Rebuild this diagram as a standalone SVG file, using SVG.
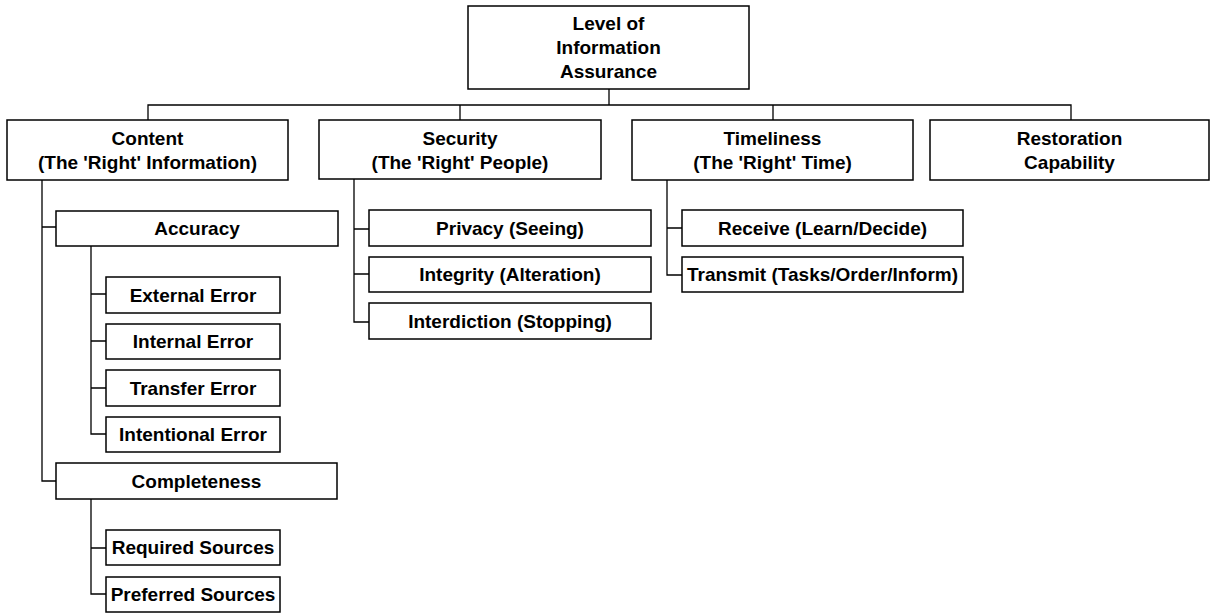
<svg xmlns="http://www.w3.org/2000/svg" width="1211" height="613" viewBox="0 0 1211 613">
<style>
rect{fill:#fff;stroke:#000;stroke-width:1.5}
text{font-family:"Liberation Sans",Arial,sans-serif;font-weight:bold;font-size:19px;text-anchor:middle;fill:#000}
.c path{fill:none;stroke:#000;stroke-width:1.3}
</style>
<rect x="0" y="0" width="1211" height="613" style="stroke:none"/>
<g class="c" id="connectors">
<path d="M609,89V105M148,120V105H1071V120M460,105V120M773,105V120"/>
<path d="M42,180V481H56M42,227H56"/>
<path d="M91,246V434H106M91,294H106M91,341H106M91,388H106"/>
<path d="M91,499V594H106M91,548H106"/>
<path d="M354,179V322H369M354,229H369M354,274H369"/>
<path d="M667,180V275H682M667,228H682"/>
</g>
<g id="root"><rect x="468" y="6" width="281" height="83"/><text x="608.5" y="30">Level of</text><text x="608.5" y="54">Information</text><text x="608.5" y="78">Assurance</text></g>
<g id="content"><rect x="7" y="120" width="281" height="60"/><text x="147.5" y="144.5">Content</text><text x="147.5" y="168.5">(The 'Right' Information)</text></g>
<g id="security"><rect x="319" y="120" width="282" height="59"/><text x="460" y="144.5">Security</text><text x="460" y="168.5">(The 'Right' People)</text></g>
<g id="timeliness"><rect x="632" y="120" width="281" height="60"/><text x="772.5" y="144.5">Timeliness</text><text x="772.5" y="168.5">(The 'Right' Time)</text></g>
<g id="restoration"><rect x="930" y="120" width="279" height="60"/><text x="1069.5" y="144.5">Restoration</text><text x="1069.5" y="168.5">Capability</text></g>
<g id="accuracy"><rect x="56" y="211" width="282" height="35"/><text x="197" y="235">Accuracy</text></g>
<g id="external"><rect x="106" y="277" width="174" height="36"/><text x="193" y="301.5">External Error</text></g>
<g id="internal"><rect x="106" y="324" width="174" height="35"/><text x="193" y="348">Internal Error</text></g>
<g id="transfer"><rect x="106" y="370" width="174" height="36"/><text x="193" y="394.5">Transfer Error</text></g>
<g id="intentional"><rect x="106" y="417" width="174" height="35"/><text x="193" y="441">Intentional Error</text></g>
<g id="completeness"><rect x="56" y="463" width="281" height="36"/><text x="196.5" y="487.5">Completeness</text></g>
<g id="required"><rect x="106" y="530" width="174" height="35"/><text x="193" y="554">Required Sources</text></g>
<g id="preferred"><rect x="106" y="577" width="174" height="35"/><text x="193" y="601">Preferred Sources</text></g>
<g id="privacy"><rect x="369" y="210" width="282" height="36"/><text x="510" y="234.5">Privacy (Seeing)</text></g>
<g id="integrity"><rect x="369" y="257" width="282" height="35"/><text x="510" y="281">Integrity (Alteration)</text></g>
<g id="interdiction"><rect x="369" y="303" width="282" height="36"/><text x="510" y="327.5">Interdiction (Stopping)</text></g>
<g id="receive"><rect x="682" y="210" width="281" height="36"/><text x="822.5" y="234.5">Receive (Learn/Decide)</text></g>
<g id="transmit"><rect x="682" y="257" width="281" height="35"/><text x="822.5" y="281">Transmit (Tasks/Order/Inform)</text></g>
</svg>
